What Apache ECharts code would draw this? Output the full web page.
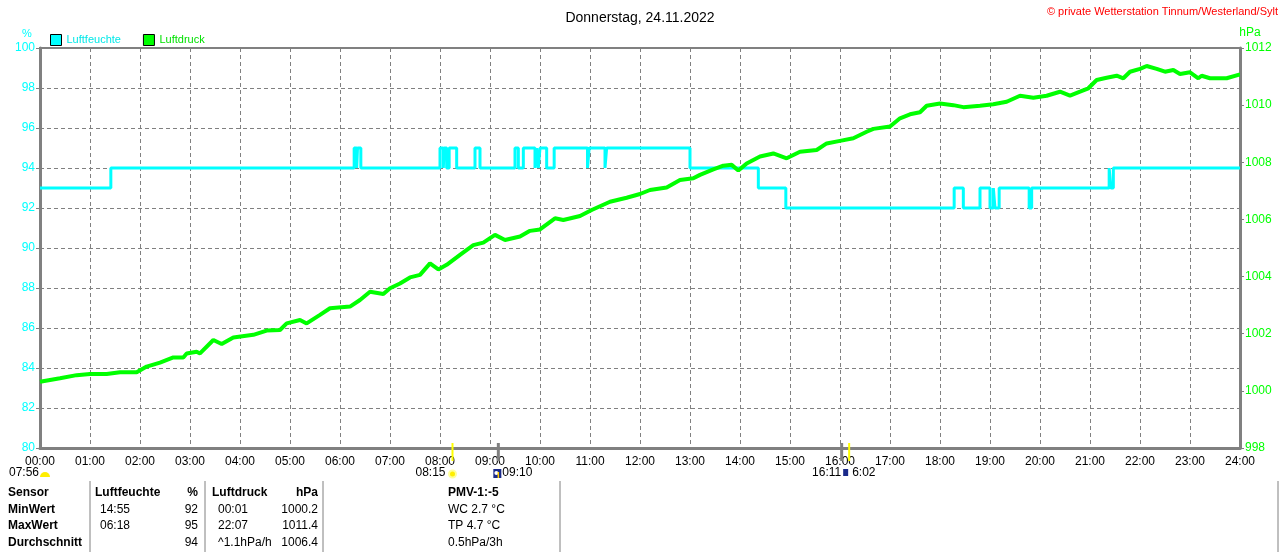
<!DOCTYPE html>
<html><head><meta charset="utf-8">
<script src="https://cdn.jsdelivr.net/npm/echarts@6/dist/echarts.min.js"></script>
<style>html,body{margin:0;padding:0;background:#fff}#c{width:1280px;height:552px}</style>
</head><body><div id="c"></div>
<script>
// ---- data ----
const hourTicks = ['00:00','01:00','02:00','03:00','04:00','05:00','06:00','07:00','08:00','09:00','10:00','11:00','12:00','13:00','14:00','15:00','16:00','17:00','18:00','19:00','20:00','21:00','22:00','23:00','24:00'];
const humidityTimes = ['00:00','01:25','06:17','06:20','06:21','06:25','08:00','08:04','08:05','08:08','08:11','08:20','08:42','08:48','09:30','09:34','09:40','09:54','09:56','09:58','10:00','10:08','10:17','10:57','10:59','11:18','11:20','13:00','14:22','14:55','18:17','18:28','18:48','19:00','19:04','19:06','19:11','19:47','19:50','21:23','21:25','21:28','24:00'];
const humidityValues = [93,94,95,94,95,94,95,94,95,94,95,94,95,94,95,94,95,94,95,94,95,94,95,94,95,94,95,94,93,92,93,92,93,92,93,92,93,92,93,94,93,94,94];
const pressureMinutes = [0,24,44,60,80,96,116,128,144,160,172,176,188,192,208,218,232,256,272,288,296,312,320,336,348,372,384,396,412,420,432,444,456,468,478,488,504,520,532,546,558,576,588,600,618,628,648,662,684,704,720,732,752,768,784,792,808,820,830,838,848,864,880,896,912,932,944,960,976,992,1000,1020,1032,1044,1056,1064,1080,1096,1108,1128,1144,1160,1176,1192,1208,1224,1236,1248,1258,1268,1280,1292,1300,1308,1320,1328,1340,1350,1360,1368,1380,1390,1394,1404,1424,1438,1440];
const pressureValues = [1000.32,1000.44,1000.55,1000.59,1000.59,1000.65,1000.65,1000.85,1000.99,1001.17,1001.17,1001.31,1001.37,1001.31,1001.78,1001.64,1001.87,1001.96,1002.11,1002.13,1002.36,1002.48,1002.36,1002.66,1002.89,1002.95,1003.18,1003.47,1003.39,1003.59,1003.76,1003.97,1004.06,1004.46,1004.25,1004.41,1004.76,1005.10,1005.19,1005.46,1005.28,1005.40,1005.60,1005.65,1006.04,1005.98,1006.12,1006.33,1006.62,1006.76,1006.89,1007.03,1007.12,1007.38,1007.44,1007.56,1007.75,1007.88,1007.91,1007.71,1007.96,1008.20,1008.31,1008.14,1008.37,1008.43,1008.66,1008.75,1008.84,1009.07,1009.17,1009.25,1009.54,1009.68,1009.75,1009.98,1010.06,1010.00,1009.93,1009.98,1010.03,1010.12,1010.33,1010.26,1010.33,1010.47,1010.33,1010.47,1010.59,1010.88,1010.96,1011.03,1010.94,1011.17,1011.27,1011.37,1011.27,1011.17,1011.23,1011.09,1011.15,1010.94,1011.03,1010.94,1010.94,1011.06,1011.06];
const sunTimes = ['08:15','16:11'];
const moonTimes = ['09:10','16:02'];
const tableRows = [
  ['Sensor','Luftfeuchte','%','Luftdruck','hPa','PMV-1:-5'],
  ['MinWert','14:55','92','00:01','1000.2','WC 2.7 °C'],
  ['MaxWert','06:18','95','22:07','1011.4','TP 4.7 °C'],
  ['Durchschnitt','','94','^1.1hPa/h','1006.4','0.5hPa/3h']
];

const toMin = s => { const p = s.split(':'); return (+p[0])*60 + (+p[1]); };
const FONT = 'Liberation Sans, Arial, sans-serif';
const chart = echarts.init(document.getElementById('c'));

chart.setOption({
  animation:false,
  backgroundColor:'#fff',
  title:{text:'Donnerstag, 24.11.2022', left:'center', top:6, textStyle:{fontFamily:FONT,fontSize:14,fontWeight:'normal',color:'#000'}},
  legend:{left:45, top:29, itemWidth:11, itemHeight:11, itemGap:22, icon:'rect',
    textStyle:{fontFamily:FONT,fontSize:11},
    data:[{name:'Luftfeuchte', textStyle:{color:'#00e8e8'}, itemStyle:{color:'#00ffff',borderColor:'#000',borderWidth:1}},
          {name:'Luftdruck', textStyle:{color:'#00e000'}, itemStyle:{color:'#00ff00',borderColor:'#000',borderWidth:1}}]},
  grid:{left:40, right:40, top:48, bottom:104, show:true, borderColor:'#808080', borderWidth:2, backgroundColor:'transparent'},
  xAxis:{type:'value', min:0, max:1440, interval:60,
    axisLine:{show:true, lineStyle:{color:'#808080', width:3}},
    axisTick:{show:false},
    axisLabel:{color:'#000', fontFamily:FONT, fontSize:12, margin:8, formatter:(v)=>hourTicks[v/60]},
    splitLine:{show:true, lineStyle:{color:'#808080', type:[4,3], width:1}}},
  yAxis:[
    {type:'value', min:80, max:100, interval:2, position:'left',
      axisLine:{show:true, lineStyle:{color:'#808080', width:3}},
      axisTick:{show:true, length:4, lineStyle:{color:'#808080', width:1}},
      axisLabel:{color:'#00ffff', fontFamily:FONT, fontSize:12, margin:5, formatter:(v)=>String(v)},
      splitLine:{show:true, lineStyle:{color:'#808080', type:[4,3], width:1}}},
    {type:'value', min:998, max:1012, interval:2, position:'right',
      axisLine:{show:true, lineStyle:{color:'#808080', width:3}},
      axisTick:{show:true, length:4, lineStyle:{color:'#808080', width:1}},
      axisLabel:{color:'#00ff00', fontFamily:FONT, fontSize:12, margin:5, formatter:(v)=>String(v)},
      splitLine:{show:false}}
  ],
  series:[
    {name:'Luftfeuchte', type:'line', step:'end', yAxisIndex:0, showSymbol:false, symbol:'none',
      lineStyle:{color:'#00ffff', width:3}, itemStyle:{color:'#00ffff'},
      data:humidityTimes.map((t,i)=>[toMin(t), humidityValues[i]])},
    {name:'Luftdruck', type:'line', yAxisIndex:1, showSymbol:false, symbol:'none',
      lineStyle:{color:'#00ff00', width:4}, itemStyle:{color:'#00ff00'},
      data:pressureMinutes.map((t,i)=>[t, pressureValues[i]])}
  ]
});

// ---- extra texts / markers ----
const g = [];
const T = (x,y,text,opt={}) => g.push({type:'text', x, y, style:Object.assign({text, fill:'#000', font:'12px '+FONT, textAlign:'left', textVerticalAlign:'top'}, opt)});
T(1278,6,'© private Wetterstation Tinnum/Westerland/Sylt',{fill:'#ff0000', font:'11px '+FONT, textAlign:'right'});
T(27,28,'%',{fill:'#00ffff', font:'11px '+FONT, textAlign:'center'});
T(1250,27,'hPa',{fill:'#00ff00', font:'12px '+FONT, textAlign:'center'});

const yTop = 443, yBot = 461;
sunTimes.forEach(t=>{
  const px = chart.convertToPixel({xAxisIndex:0}, toMin(t));
  g.push({type:'line', shape:{x1:px,y1:yTop,x2:px,y2:yBot}, style:{stroke:'#ffff00', lineWidth:2}, z:10});
});
moonTimes.forEach(t=>{
  const px = chart.convertToPixel({xAxisIndex:0}, toMin(t));
  g.push({type:'line', shape:{x1:px,y1:yTop,x2:px,y2:yBot}, style:{stroke:'#808080', lineWidth:3}, z:9});
});
const evY = 467;
const p0815 = chart.convertToPixel({xAxisIndex:0}, toMin('08:15'));
const p0910 = chart.convertToPixel({xAxisIndex:0}, toMin('09:10'));
const p1611 = chart.convertToPixel({xAxisIndex:0}, toMin('16:11'));
T(9,evY,'07:56');
g.push({type:'sector', shape:{cx:45,cy:477,r:5,startAngle:Math.PI,endAngle:2*Math.PI}, style:{fill:'#ffee00'}});
T(p0815-7,evY,'08:15',{textAlign:'right'});
g.push({type:'circle', shape:{cx:p0815,cy:474,r:3.5}, style:{fill:'#ffee00', stroke:'#ffff99', lineWidth:2}});
g.push({type:'rect', shape:{x:p0910-5,y:469,width:8,height:9}, style:{fill:'#1a2a8a'}});
g.push({type:'circle', shape:{cx:p0910-2,cy:473,r:2}, style:{fill:'#ffffff'}});
g.push({type:'line', shape:{x1:p0910,y1:472,x2:p0910,y2:478}, style:{stroke:'#ffcc00', lineWidth:1.5}});
T(p0910+4,evY,'09:10');
T(p1611-8,evY,'16:11',{textAlign:'right'});
g.push({type:'rect', shape:{x:p1611-6,y:469,width:5,height:7}, style:{fill:'#1a2a8a'}});
T(p1611+3,evY,'6:02');

const colX = [8,100,198,218,318,448];
const colAlign = ['left','left','right','left','right','left'];
const rowY = [487,504,520,537];
tableRows.forEach((row,r)=>{
  row.forEach((txt,c)=>{
    let x = colX[c];
    if (r===0 && c===1) x = 95;
    if (r===0 && c===3) x = 212;
    T(x,rowY[r],txt,{textAlign:colAlign[c], font:(r===0||c===0?'bold ':'')+'12px '+FONT});
  });
});
[90,205,323,560,1278].forEach(x=>{
  g.push({type:'line', shape:{x1:x,y1:481,x2:x,y2:552}, style:{stroke:'#808080', lineWidth:1}});
});
chart.setOption({graphic:g});
</script></body></html>
